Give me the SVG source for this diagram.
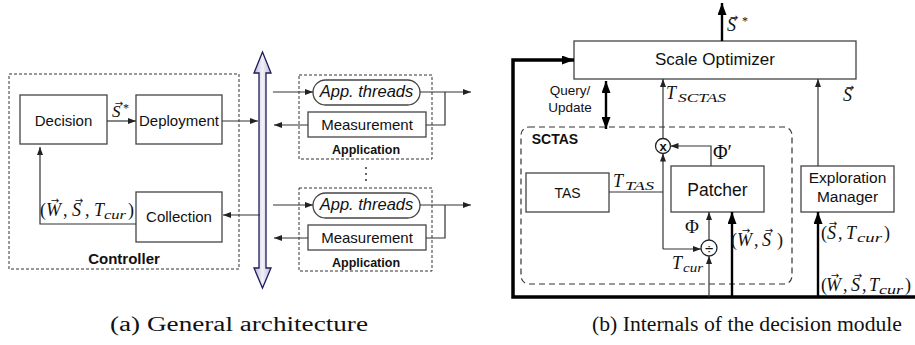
<svg xmlns="http://www.w3.org/2000/svg" width="915" height="345" viewBox="0 0 915 345">
<defs>
<marker id="a" markerWidth="8" markerHeight="6" refX="8" refY="3" orient="auto" markerUnits="userSpaceOnUse"><path d="M0,0 L8,3 L0,6 z" fill="#222"/></marker>
<marker id="at" markerWidth="12" markerHeight="9" refX="12" refY="4.5" orient="auto-start-reverse" markerUnits="userSpaceOnUse"><path d="M0,0 L12,4.5 L0,9 z" fill="#000"/></marker>
<linearGradient id="busg" x1="0" x2="1" y1="0" y2="0">
<stop offset="0" stop-color="#b9b9d6"/><stop offset="0.5" stop-color="#f2f2f8"/><stop offset="1" stop-color="#b9b9d6"/>
</linearGradient>
</defs>
<style>
.box{fill:#fff;stroke:#444;stroke-width:1.3}
.dash{fill:none;stroke:#333;stroke-width:1;stroke-dasharray:3,2}
.dash2{fill:none;stroke:#333;stroke-width:1.2;stroke-dasharray:6,4}
.ln{fill:none;stroke:#333;stroke-width:1.2}
.thk{fill:none;stroke:#000;stroke-width:3.5}
.med{fill:none;stroke:#000;stroke-width:2.4}
.t{font-family:"Liberation Sans",Arial,sans-serif;font-size:15px;fill:#111;text-anchor:middle}
.b{font-weight:bold}
.i{font-style:italic}
.m{font-family:"Liberation Serif","DejaVu Serif",serif;font-style:italic;font-size:18px;fill:#111}
.n{font-style:normal}
.va{font-family:"DejaVu Sans",sans-serif;font-size:10px;font-style:normal}
.cap{font-family:"Liberation Serif","DejaVu Serif",serif;font-size:20px;fill:#111}
</style>

<!-- (a) General architecture -->
<g id="controller"><rect class="dash" x="9" y="74" width="230" height="195"/><text class="t b" x="124" y="264">Controller</text></g>
<g id="decision"><rect class="box" x="20" y="95" width="87" height="49"/><text class="t" x="63.5" y="126">Decision</text></g>
<g id="deployment"><rect class="box" x="136" y="95" width="86" height="49"/><text class="t" x="179" y="126">Deployment</text></g>
<g id="collection"><rect class="box" x="136" y="192" width="86" height="50"/><text class="t" x="179" y="222">Collection</text></g>
<g id="bus"><path d="M262.5,52 L271,73 L266,73 L266,268 L271,268 L262.5,288 L254,268 L259,268 L259,73 L254,73 Z" fill="url(#busg)" stroke="#1c1c58" stroke-width="1.3"/></g>

<g id="app1">
<rect class="dash" x="299" y="75" width="133" height="84"/>
<rect class="box" x="313" y="80" width="107" height="25" rx="12.5"/>
<text class="t i" x="366.5" y="97" style="font-size:16.5px">App. threads</text>
<rect class="box" x="308" y="112" width="118" height="25"/>
<text class="t" x="367" y="130">Measurement</text>
<text class="t b" x="366" y="154" style="font-size:12.5px">Application</text>
</g>
<g id="app2">
<rect class="dash" x="299" y="188" width="133" height="83"/>
<rect class="box" x="313" y="193" width="107" height="25" rx="12.5"/>
<text class="t i" x="366.5" y="210" style="font-size:16.5px">App. threads</text>
<rect class="box" x="308" y="225" width="118" height="25"/>
<text class="t" x="367" y="243">Measurement</text>
<text class="t b" x="366" y="267" style="font-size:12.5px">Application</text>
</g>
<g id="dots" fill="#333"><circle cx="366" cy="168" r="1"/><circle cx="366" cy="174" r="1"/><circle cx="366" cy="180" r="1"/></g>

<g id="connectors-a">
<path class="ln" d="M107,121 L136,121" marker-end="url(#a)"/>
<path class="ln" d="M222,121 L258,121" marker-end="url(#a)"/>
<path class="ln" d="M260,215 L223,215" marker-end="url(#a)"/>
<path class="ln" d="M136,224 L40,224 L40,147" marker-end="url(#a)"/>
<path class="ln" d="M273,92 L313,92" marker-end="url(#a)"/>
<path class="ln" d="M420,92 L471,92" marker-end="url(#a)"/>
<path class="ln" d="M445,92 L445,125 L426,125"/>
<path class="ln" d="M308,125 L274,125" marker-end="url(#a)"/>
<path class="ln" d="M273,205 L313,205" marker-end="url(#a)"/>
<path class="ln" d="M420,205 L471,205" marker-end="url(#a)"/>
<path class="ln" d="M445,205 L445,238 L426,238"/>
<path class="ln" d="M308,238 L274,238" marker-end="url(#a)"/>
</g>
<g id="labels-a">
<text class="m" style="font-size:17px"><tspan x="112" y="117">S</tspan><tspan class="n" x="123" y="112" font-size="12">*</tspan><tspan class="va" x="114.8" y="107">→</tspan></text>
<text class="m"><tspan class="n" x="40" y="216">(</tspan><tspan x="46">W</tspan><tspan class="n" x="63">,</tspan><tspan x="72">S</tspan><tspan class="n" x="85">,</tspan><tspan x="94">T</tspan><tspan x="104" y="219" font-size="13" textLength="22" lengthAdjust="spacingAndGlyphs">cur</tspan><tspan class="n" x="128" y="216">)</tspan><tspan class="va" x="50.8" y="204">→</tspan><tspan class="va" x="74.8" y="204">→</tspan></text>
</g>
<text class="cap" x="110" y="331" textLength="258" lengthAdjust="spacingAndGlyphs">(a) General architecture</text>

<!-- (b) Internals of the decision module -->
<g id="scale-optimizer"><rect class="box" x="574" y="41" width="282" height="38"/><text class="t" x="715" y="65" style="font-size:17px">Scale Optimizer</text></g>
<g id="sctas"><rect class="dash2" x="521" y="127" width="271" height="157" rx="8"/><text class="t b" x="555" y="144" style="font-size:14px">SCTAS</text></g>
<g id="tas"><rect class="box" x="526" y="173" width="83" height="39"/><text class="t" x="567.5" y="198" style="font-size:14px">TAS</text></g>
<g id="patcher"><rect class="box" x="671" y="166" width="93" height="46"/><text class="t" x="717.5" y="196" style="font-size:17.5px">Patcher</text></g>
<g id="exploration-manager"><rect class="box" x="801" y="166" width="93" height="46"/><text class="t" x="847.5" y="183" style="font-size:15.5px">Exploration</text><text class="t" x="847.5" y="202" style="font-size:15.5px">Manager</text></g>
<g id="multiply"><circle cx="663" cy="146" r="7.5" fill="#fff" stroke="#222" stroke-width="1.3"/><text class="t b" x="663" y="150.5" style="font-size:13px">x</text></g>
<g id="divide"><circle cx="709" cy="248" r="8" fill="#fff" stroke="#222" stroke-width="1.3"/><text class="t" x="709" y="253.5" style="font-size:15px">÷</text></g>

<g id="connectors-b">
<path class="thk" d="M915,297 L513,297 L513,60 L574,60" marker-end="url(#at)"/>
<path class="med" d="M722,41 L722,3" marker-end="url(#at)"/>
<path class="med" d="M606,81 L606,129" marker-start="url(#at)" marker-end="url(#at)"/>
<path class="ln" d="M663,138.5 L663,79" marker-end="url(#a)"/>
<path class="ln" d="M711,166 L711,146 L670.5,146" marker-end="url(#a)"/>
<path class="ln" d="M609,192 L663,192"/>
<path class="ln" d="M663,249 L663,153.5" marker-end="url(#a)"/>
<path class="ln" d="M663,249 L701,249" marker-end="url(#a)"/>
<path class="ln" d="M709,240 L709,212" marker-end="url(#a)"/>
<path class="ln" d="M709,297 L709,256" marker-end="url(#a)"/>
<path class="med" d="M732,297 L732,212" marker-end="url(#at)"/>
<path class="med" d="M818,297 L818,212" marker-end="url(#at)"/>
<path class="ln" d="M818,166 L818,79" marker-end="url(#a)"/>
</g>
<g id="labels-b">
<text class="t" x="570" y="95" style="font-size:13.5px">Query/</text>
<text class="t" x="570" y="112" style="font-size:13.5px">Update</text>
<text class="m"><tspan x="727" y="31">S</tspan><tspan class="n" x="742" y="25" font-size="12">*</tspan><tspan class="va" x="729.8" y="21">→</tspan></text>
<text class="m" x="666" y="99">T<tspan x="678" y="102" font-size="13" textLength="48" lengthAdjust="spacingAndGlyphs">SCTAS</tspan></text>
<text class="m"><tspan x="843" y="101">S</tspan><tspan class="va" x="845.8" y="91">→</tspan></text>
<text class="m n" x="713" y="159" style="font-size:20px">Φ′</text>
<text class="m" x="613" y="187">T<tspan x="625" y="190" font-size="12" textLength="29" lengthAdjust="spacingAndGlyphs">TAS</tspan></text>
<text class="m n" x="685" y="233" style="font-size:19px">Φ</text>
<text class="m"><tspan class="n" x="731" y="246">(</tspan><tspan x="737">W</tspan><tspan class="n" x="754">,</tspan><tspan x="762">S</tspan><tspan class="n" x="777">)</tspan><tspan class="va" x="741.8" y="234">→</tspan><tspan class="va" x="764.8" y="234">→</tspan></text>
<text class="m" x="672" y="269">T<tspan x="683" y="272" font-size="13" textLength="20" lengthAdjust="spacingAndGlyphs">cur</tspan></text>
<text class="m"><tspan class="n" x="821" y="239">(</tspan><tspan x="827">S</tspan><tspan class="n" x="838">,</tspan><tspan x="846">T</tspan><tspan x="857" y="242" font-size="13" textLength="25" lengthAdjust="spacingAndGlyphs">cur</tspan><tspan class="n" x="884" y="239">)</tspan><tspan class="va" x="828.8" y="227">→</tspan></text>
<text class="m"><tspan class="n" x="821" y="291">(</tspan><tspan x="826">W</tspan><tspan class="n" x="843">,</tspan><tspan x="851">S</tspan><tspan class="n" x="862">,</tspan><tspan x="869">T</tspan><tspan x="879" y="294" font-size="13" textLength="24" lengthAdjust="spacingAndGlyphs">cur</tspan><tspan class="n" x="905" y="291">)</tspan><tspan class="va" x="830.8" y="279">→</tspan><tspan class="va" x="853.8" y="279">→</tspan></text>
</g>
<text class="cap" x="592" y="331" textLength="310" lengthAdjust="spacingAndGlyphs">(b) Internals of the decision module</text>
</svg>
